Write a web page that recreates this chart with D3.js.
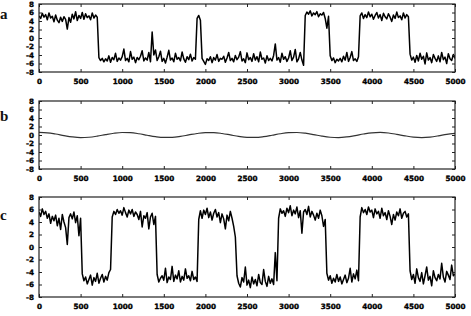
<!DOCTYPE html>
<html>
<head>
<meta charset="utf-8">
<script src="https://cdn.jsdelivr.net/npm/d3@7/dist/d3.min.js"></script>
<style>
  html, body { margin: 0; padding: 0; background: #fff; }
  svg { display: block; }
  .tick text { font-family: "DejaVu Sans", "Liberation Sans", Arial, sans-serif; font-weight: bold; font-size: 7.2px; fill: #000; stroke: #000; stroke-width: 0.35px; }
  .tick line { stroke: #222; stroke-width: 1; }
  .plabel { font-family: "Liberation Serif", "Times New Roman", serif; font-weight: bold; font-size: 15px; fill: #111; }
</style>
</head>
<body>
<svg id="chart" width="471" height="316"></svg>
<script>
// ---------------- data ----------------
const TIME_STEP = 20;   // noisy traces sampled every 20 time units (0..5000)
const SINE_STEP = 100;  // smooth trace sampled every 100 time units (0..5000)

const xTicks = [0, 500, 1000, 1500, 2000, 2500, 3000, 3500, 4000, 4500, 5000];
const yTicks = [8, 6, 4, 2, 0, -2, -4, -6, -8];
const panelLabels = ["a", "b", "c"];

// panel a : noisy two-state trace
const seriesA = [
  5.2, 4.6, 5.8, 4.9, 5.5, 4.3, 5.9, 4.7, 5.1, 3.8,
  5.4, 4.2, 3.6, 4.9, 3.9, 5.0, 4.4, 2.1, 4.8, 3.7,
  5.6, 4.5, 6.2, 4.1, 5.3, 4.6, 6.0, 4.4, 5.7, 4.8,
  5.2, 4.3, 5.9, 4.7, 5.4, 4.9, -4.6, -5.3, -4.8, -5.6,
  -4.9, -5.4, -4.2, -5.7, -4.6, -5.1, -3.6, -5.5, -4.7, -5.2,
  -4.4, -2.6, -5.3, -4.8, -5.6, -3.2, -5.0, -4.5, -5.8, -4.6,
  -5.1, -4.3, -3.0, -5.4, -4.7, -5.2, -3.4, -5.6, 1.4, -4.0,
  -2.8, -5.3, -4.4, -3.1, -5.5, -4.8, -5.9, -4.5, -2.9, -5.2,
  -4.7, -5.6, -3.6, -5.0, -4.6, -5.4, -3.3, -4.9, -5.7, -4.4,
  -5.1, -3.8, -5.4, -4.6, -5.0, 4.6, 5.3, 4.2, -4.8, -5.5,
  -6.2, -4.9, -5.3, -4.4, -5.8, -4.6, -5.2, -3.9, -5.5, -4.8,
  -5.0, -4.3, -5.7, -4.7, -3.4, -5.3, -4.8, -5.6, -4.1, -5.1,
  -4.5, -3.2, -5.4, -4.9, -5.8, -3.5, -5.1, -4.6, -5.5, -3.7,
  -5.2, -4.4, -5.6, -3.3, -5.0, -4.7, -5.9, -4.2, -5.3, -4.8,
  -5.4, -4.1, -1.4, -5.2, -4.6, -5.7, -3.6, -5.0, -4.4, -5.5,
  -4.7, -3.0, -5.3, -4.5, -2.7, -5.6, -4.9, -3.4, -5.2, -6.4,
  5.3, 6.1, 5.6, 6.4, 5.2, 5.9, 5.5, 6.2, 5.0, 5.7,
  5.4, 6.0, 4.6, 2.3, 5.1, -4.2, -5.3, -4.7, -5.8, -5.0,
  -5.4, -4.8, -5.6, -4.3, -5.2, -3.4, -5.5, -4.6, -3.2, -5.3,
  -4.9, -5.5, -4.4, 5.2, 5.9, 4.6, 5.5, 4.8, 6.1, 5.0,
  5.6, 4.4, 5.3, 6.0, 4.7, 5.5, 4.1, 5.8, 5.0, 4.5,
  5.7, 4.9, 3.9, 5.4, 4.6, 6.1, 4.8, 5.2, 4.3, 5.9,
  4.7, 5.5, 5.0, -3.8, -5.2, -4.5, -5.7, -4.1, -5.4, -3.6,
  -5.0, -4.3, -6.1, -3.5, -5.2, -4.6, -5.8, -3.9, -4.8, -5.5,
  -4.2, -5.6, -3.4, -5.1, -4.5, -6.0, -3.7, -4.9, -5.3, -3.9,
  -4.8
];

// panel b : slow periodic signal
const seriesB = [
  0.60, 0.51, 0.23, -0.13, -0.44, -0.60, -0.53, -0.27, 0.09, 0.41,
  0.59, 0.55, 0.30, -0.06, -0.39, -0.58, -0.56, -0.33, 0.02, 0.36,
  0.57, 0.57, 0.36, 0.02, -0.33, -0.56, -0.58, -0.39, -0.06, 0.30,
  0.55, 0.59, 0.42, 0.10, -0.27, -0.53, -0.60, -0.44, -0.13, 0.23,
  0.51, 0.60, 0.47, 0.16, -0.20, -0.49, -0.60, -0.49, -0.20, 0.16,
  0.40
];

// panel c : noisy two-state trace
const seriesC = [
  5.6, 4.9, 6.1, 5.2, 5.7, 4.6, 5.3, 3.8, 4.9, 4.2,
  5.1, 3.4, 4.6, 2.8, 5.2, 4.0, 3.1, 0.4, 4.7, 5.3,
  4.5, 5.6, 3.9, 5.0, 1.8, 4.6, -4.3, -5.4, -4.8, -5.9,
  -5.2, -4.5, -6.1, -4.9, -5.5, -4.2, -5.8, -5.0, -4.4, -5.6,
  -4.7, -5.3, -4.1, -3.6, 4.8, 5.7, 5.2, 6.0, 5.4, 5.8,
  5.1, 6.3, 5.5, 4.8, 5.9, 5.3, 6.0, 4.9, 5.6, 5.2,
  4.4, 5.7, 3.2, 5.0, 4.6, 5.5, 2.9, 4.8, 5.4, 3.6,
  4.9, -4.4, -5.6, -5.0, -4.6, -5.3, -3.4, -5.7, -4.8, -5.2,
  -3.1, -5.5, -4.5, -5.1, -3.8, -5.6, -4.7, -5.3, -3.5, -5.0,
  -4.6, -5.4, -3.9, -5.2, -4.8, -5.5, 4.4, 5.8, 4.6, 5.9,
  5.2, 6.2, 4.7, 5.6, 4.3, 5.4, 6.0, 4.8, 5.5, 3.9,
  5.3, 4.5, 2.9, 5.1, 4.2, 5.7, 4.6, 3.3, 1.6, -4.6,
  -5.8, -6.4, -4.9, -5.6, -3.2, -6.1, -5.3, -6.5, -4.8, -5.9,
  -5.2, -6.2, -4.4, -5.7, -6.0, -3.6, -5.5, -6.3, -4.7, -5.8,
  -5.1, -6.0, -0.9, -5.4, 4.6, 6.1, 5.4, 5.8, 4.9, 6.2,
  5.5, 6.6, 5.0, 5.9, 5.3, 6.4, 4.7, 5.8, 2.2, 5.6,
  6.0, 5.2, 6.5, 4.8, 5.7, 5.1, 4.3, 5.4, 4.6, 5.9,
  5.0, 3.3, 4.4, -4.2, -5.3, -4.6, -5.8, -5.0, -5.6, -4.4,
  -5.5, -4.8, -5.9, -5.2, -4.5, -5.7, -5.0, -3.4, -5.6, -4.3,
  -5.1, -3.7, -5.4, 4.8, 6.3, 5.5, 6.0, 5.2, 6.4, 5.6,
  5.9, 4.7, 6.1, 5.3, 5.7, 4.6, 6.2, 5.0, 5.5, 4.4,
  5.8, 4.9, 3.6, 5.2, 4.3, 5.6, 5.0, 6.1, 4.6, 5.4,
  5.7, 4.8, 5.3, -3.8, -5.2, -4.4, -5.8, -3.5, -4.9, -5.5,
  -4.1, -5.9, -4.6, -3.2, -5.3, -4.7, -6.2, -3.8, -4.9, -5.4,
  -4.4, -5.1, -2.6, -4.8, -5.6, -3.9, -4.5, -5.2, -2.9, -4.6,
  -4.3
];

// ---------------- layout ----------------
const svg = d3.select("#chart");
const left = 39, right = 455;
const panels = [
  { label: panelLabels[0], data: seriesA, step: TIME_STEP, top: 4,   bottom: 72,  labelY: 19,  color: "#000", width: 1.5, curve: d3.curveLinear },
  { label: panelLabels[1], data: seriesB, step: SINE_STEP, top: 101, bottom: 169, labelY: 121, color: "#333", width: 1.2, curve: d3.curveMonotoneX },
  { label: panelLabels[2], data: seriesC, step: TIME_STEP, top: 197, bottom: 297, labelY: 220, color: "#000", width: 1.5, curve: d3.curveLinear }
];

const x = d3.scaleLinear().domain([0, 5000]).range([left, right]);

panels.forEach((p, k) => {
  const y = d3.scaleLinear().domain([-8, 8]).range([p.bottom, p.top]);
  const g = svg.append("g");

  const clipId = "clip" + k;
  svg.append("clipPath").attr("id", clipId)
    .append("rect").attr("x", left).attr("y", p.top)
    .attr("width", right - left).attr("height", p.bottom - p.top);

  // data line
  const line = d3.line()
    .x((d, i) => x(i * p.step))
    .y(d => y(d))
    .curve(p.curve);
  g.append("path")
    .datum(p.data)
    .attr("clip-path", `url(#${clipId})`)
    .attr("fill", "none")
    .attr("stroke", p.color)
    .attr("stroke-width", p.width)
    .attr("stroke-linejoin", "round")
    .attr("d", line);

  // axes (ticks inward on all sides)
  const axB = g.append("g").attr("transform", `translate(0,${p.bottom})`)
    .call(d3.axisBottom(x).tickValues(xTicks).tickSizeInner(-3).tickSizeOuter(0).tickPadding(7).tickFormat(d3.format("d")));
  const axT = g.append("g").attr("transform", `translate(0,${p.top})`)
    .call(d3.axisTop(x).tickValues(xTicks).tickSizeInner(-3).tickSizeOuter(0).tickFormat(""));
  const axL = g.append("g").attr("transform", `translate(${left},0)`)
    .call(d3.axisLeft(y).tickValues(yTicks).tickSizeInner(-3).tickSizeOuter(0).tickPadding(5).tickFormat(d3.format("d")));
  const axR = g.append("g").attr("transform", `translate(${right},0)`)
    .call(d3.axisRight(y).tickValues(yTicks).tickSizeInner(-3).tickSizeOuter(0).tickFormat(""));
  [axB, axT, axL, axR].forEach(a => a.select(".domain").remove());
  axL.selectAll("text").text(d => d < 0 ? "-" + Math.abs(d) : d);

  // frame
  g.append("rect")
    .attr("x", left).attr("y", p.top)
    .attr("width", right - left).attr("height", p.bottom - p.top)
    .attr("fill", "none").attr("stroke", "#222").attr("stroke-width", 1.2);

  // panel label
  svg.append("text").attr("class", "plabel")
    .attr("x", 0).attr("y", p.labelY).text(p.label);
});
</script>
</body>
</html>
